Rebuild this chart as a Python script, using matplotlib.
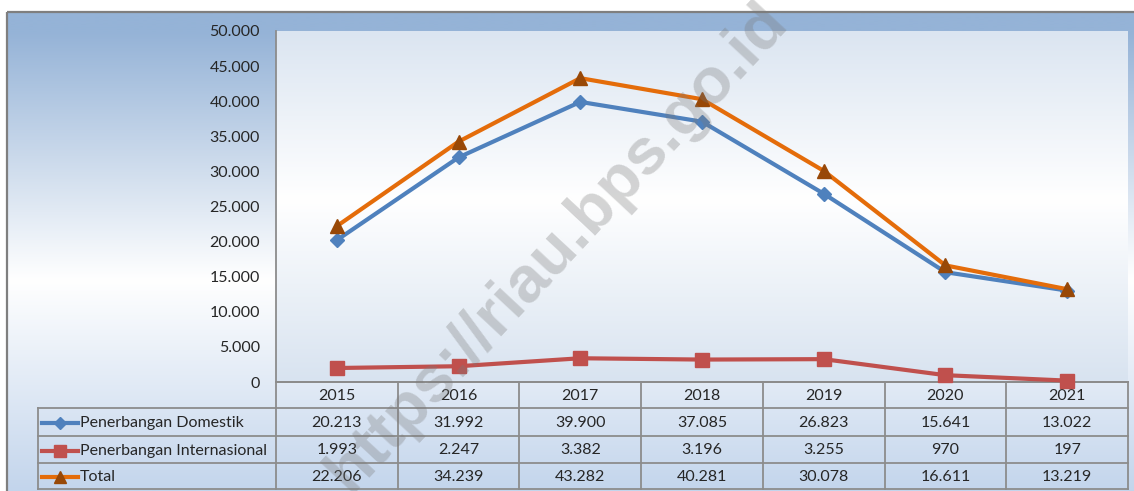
import numpy as np
import matplotlib
matplotlib.use("Agg")
import matplotlib.pyplot as plt
from matplotlib.colors import LinearSegmentedColormap
from matplotlib.lines import Line2D
from matplotlib.patches import Rectangle

YEARS = ["2015", "2016", "2017", "2018", "2019", "2020", "2021"]
DOMESTIK = [20213, 31992, 39900, 37085, 26823, 15641, 13022]
INTERNASIONAL = [1993, 2247, 3382, 3196, 3255, 970, 197]
TOTAL = [22206, 34239, 43282, 40281, 30078, 16611, 13219]
SERIES_NAMES = ["Penerbangan Domestik", "Penerbangan Internasional", "Total"]
Y_TICKS = [0, 5000, 10000, 15000, 20000, 25000, 30000, 35000, 40000, 45000, 50000]

W, H = 1134, 491
PLOT_L, PLOT_R, PLOT_T, PLOT_B = 276, 1128, 31, 382
TABLE_L = 38
ROW_EDGES = [382, 408, 436, 463, 489]
TEXT_COLOR = "#262626"
GRID_COLOR = "#8c8c8c"
FS = 11.5

plt.rcParams["font.family"] = ["Lato", "DejaVu Sans"]

STYLES = [
    dict(color="#4f81bd", marker="D", mfc="#4f81bd", mec="#4f81bd", ms=7.5),
    dict(color="#c0504d", marker="s", mfc="#c0504d", mec="#c0504d", ms=9.5),
    dict(color="#e46c0a", marker="^", mfc="#984807", mec="#984807", ms=10),
]


def fmt(v):
    return f"{int(v):,}".replace(",", ".")


def gradient(ax, extent, stops, z=0):
    cmap = LinearSegmentedColormap.from_list("g", stops)
    grad = np.linspace(0, 1, 256).reshape(-1, 1)
    ax.imshow(grad, cmap=cmap, extent=extent, aspect="auto",
              interpolation="bilinear", zorder=z)


fig = plt.figure(figsize=(W / 100, H / 100), dpi=100)

# background layer in pixel coords
bg = fig.add_axes([0, 0, 1, 1], zorder=0)
bg.set_xlim(0, W)
bg.set_ylim(H, 0)
bg.axis("off")
gradient(bg, (7, W, H, 12), [(0, "#95b3d7"), (0.04, "#95b3d7"),
                             (0.56, "#ffffff"), (1, "#c3d5ec")])
gradient(bg, (PLOT_L, PLOT_R, PLOT_B, PLOT_T), [(0, "#dbe5f1"), (0.48, "#ffffff"),
                                                (1, "#d8e3f0")], z=1)
bg.add_patch(Rectangle((7, 12), W + 10, H + 10, fill=False, ec="#7f7f7f", lw=1.6, zorder=2))

# data table
cols = np.linspace(PLOT_L, PLOT_R, len(YEARS) + 1)
bg.plot([PLOT_L, PLOT_R], [ROW_EDGES[0]] * 2, color=GRID_COLOR, lw=1.3, zorder=3)
for y in ROW_EDGES[1:]:
    bg.plot([TABLE_L, PLOT_R], [y, y], color=GRID_COLOR, lw=1.3, zorder=3)
bg.plot([TABLE_L, TABLE_L], [ROW_EDGES[1], ROW_EDGES[-1]], color=GRID_COLOR, lw=1.3, zorder=3)
for x in cols:
    bg.plot([x, x], [ROW_EDGES[0], ROW_EDGES[-1]], color=GRID_COLOR, lw=1.3, zorder=3)

for i, yr in enumerate(YEARS):
    cx = (cols[i] + cols[i + 1]) / 2
    bg.text(cx, (ROW_EDGES[0] + ROW_EDGES[1]) / 2 + 1, yr, ha="center", va="center",
            fontsize=FS, color=TEXT_COLOR, zorder=4)

for r, (name, vals, st) in enumerate(zip(SERIES_NAMES, [DOMESTIK, INTERNASIONAL, TOTAL], STYLES)):
    cy = (ROW_EDGES[r + 1] + ROW_EDGES[r + 2]) / 2 + 1
    bg.add_line(Line2D([42, 78], [cy, cy], color=st["color"], lw=3, zorder=4))
    bg.add_line(Line2D([60], [cy], marker=st["marker"], mfc=st["mfc"], mec=st["mec"],
                       ms=st["ms"] - 1, ls="none", zorder=5))
    bg.text(80, cy, name, ha="left", va="center", fontsize=FS, color=TEXT_COLOR, zorder=4)
    for i, v in enumerate(vals):
        cx = (cols[i] + cols[i + 1]) / 2
        bg.text(cx, cy, fmt(v), ha="center", va="center", fontsize=FS,
                color=TEXT_COLOR, zorder=4)

# line chart
ax = fig.add_axes([PLOT_L / W, 1 - PLOT_B / H, (PLOT_R - PLOT_L) / W, (PLOT_B - PLOT_T) / H],
                  zorder=2)
ax.patch.set_alpha(0)
x = np.arange(len(YEARS))
for vals, st in zip([DOMESTIK, INTERNASIONAL, TOTAL], STYLES):
    ax.plot(x, vals, color=st["color"], lw=3, marker=st["marker"], mfc=st["mfc"],
            mec=st["mec"], ms=st["ms"], clip_on=False, zorder=3)

ax.set_xlim(-0.5, len(YEARS) - 0.5)
ax.set_ylim(0, 50000)
ax.set_yticks(Y_TICKS)
ax.set_yticklabels([fmt(t) for t in Y_TICKS], fontsize=FS, color=TEXT_COLOR)
ax.tick_params(axis="y", length=0, pad=11.5)
ax.set_xticks([])
for s in ["top", "right"]:
    ax.spines[s].set_visible(False)
ax.spines["left"].set_color(GRID_COLOR)
ax.spines["left"].set_linewidth(1.3)
ax.spines["bottom"].set_color(GRID_COLOR)
ax.spines["bottom"].set_linewidth(1.3)

# watermark
fig.text(557 / W, 1 - 247 / H, "https://riau.bps.go.id", rotation=47,
         ha="center", va="center", rotation_mode="anchor", fontsize=47,
         fontweight="bold", family="Liberation Sans", color="#7a7a7a", alpha=0.32, zorder=10)

fig.savefig("out.png", dpi=100)
